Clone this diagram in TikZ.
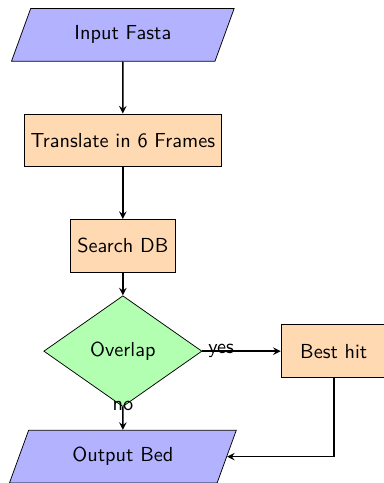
\documentclass[tikz,border=0pt,11pt]{standalone}
\usepackage{tikz}
\usetikzlibrary{shapes.geometric,arrows,positioning}
\renewcommand{\familydefault}{\sfdefault}

\begin{document}
\begin{tikzpicture}
	[   io/.style={trapezium,trapezium left angle=70,trapezium right angle=110,minimum width=3cm,minimum height=1cm,text centered,draw=black,fill=blue!30},
		process/.style={rectangle,minimum width=2cm,minimum height=1cm,text centered,draw=black,fill=orange!30},
		decision/.style={diamond,minimum width=3cm,minimum height=1cm,text centered,draw=black,fill=green!30},
	]
	\tikzset{flow arrow/.style={draw,thick,->,>=stealth}}
	\useasboundingbox (-2.33,-8.5) rectangle (4.95,0.66);
	
	\node[io] (in) at (0,0) {Input Fasta};
	\node[process] (trans) at (0,-2) {Translate in 6 Frames};
	\node[process] (search) at (0,-4) {Search DB};
	\node[decision] (overlap) at (0,-6) {Overlap};
	\node[process] (best) at (4,-6) {Best hit};
	\node[io] (out) at (0,-8) {Output Bed};
	
	\path[flow arrow] (in) -- (trans);
	\path[flow arrow] (trans) -- (search);
	\path[flow arrow] (search) -- (overlap);
	\path[flow arrow] (overlap) -- node[anchor=east] {yes} (best);
	\path[flow arrow] (overlap) -- node[anchor=south] {no} (out);
	\path[flow arrow] (best) |- (out);
	
\end{tikzpicture}
\end{document}
